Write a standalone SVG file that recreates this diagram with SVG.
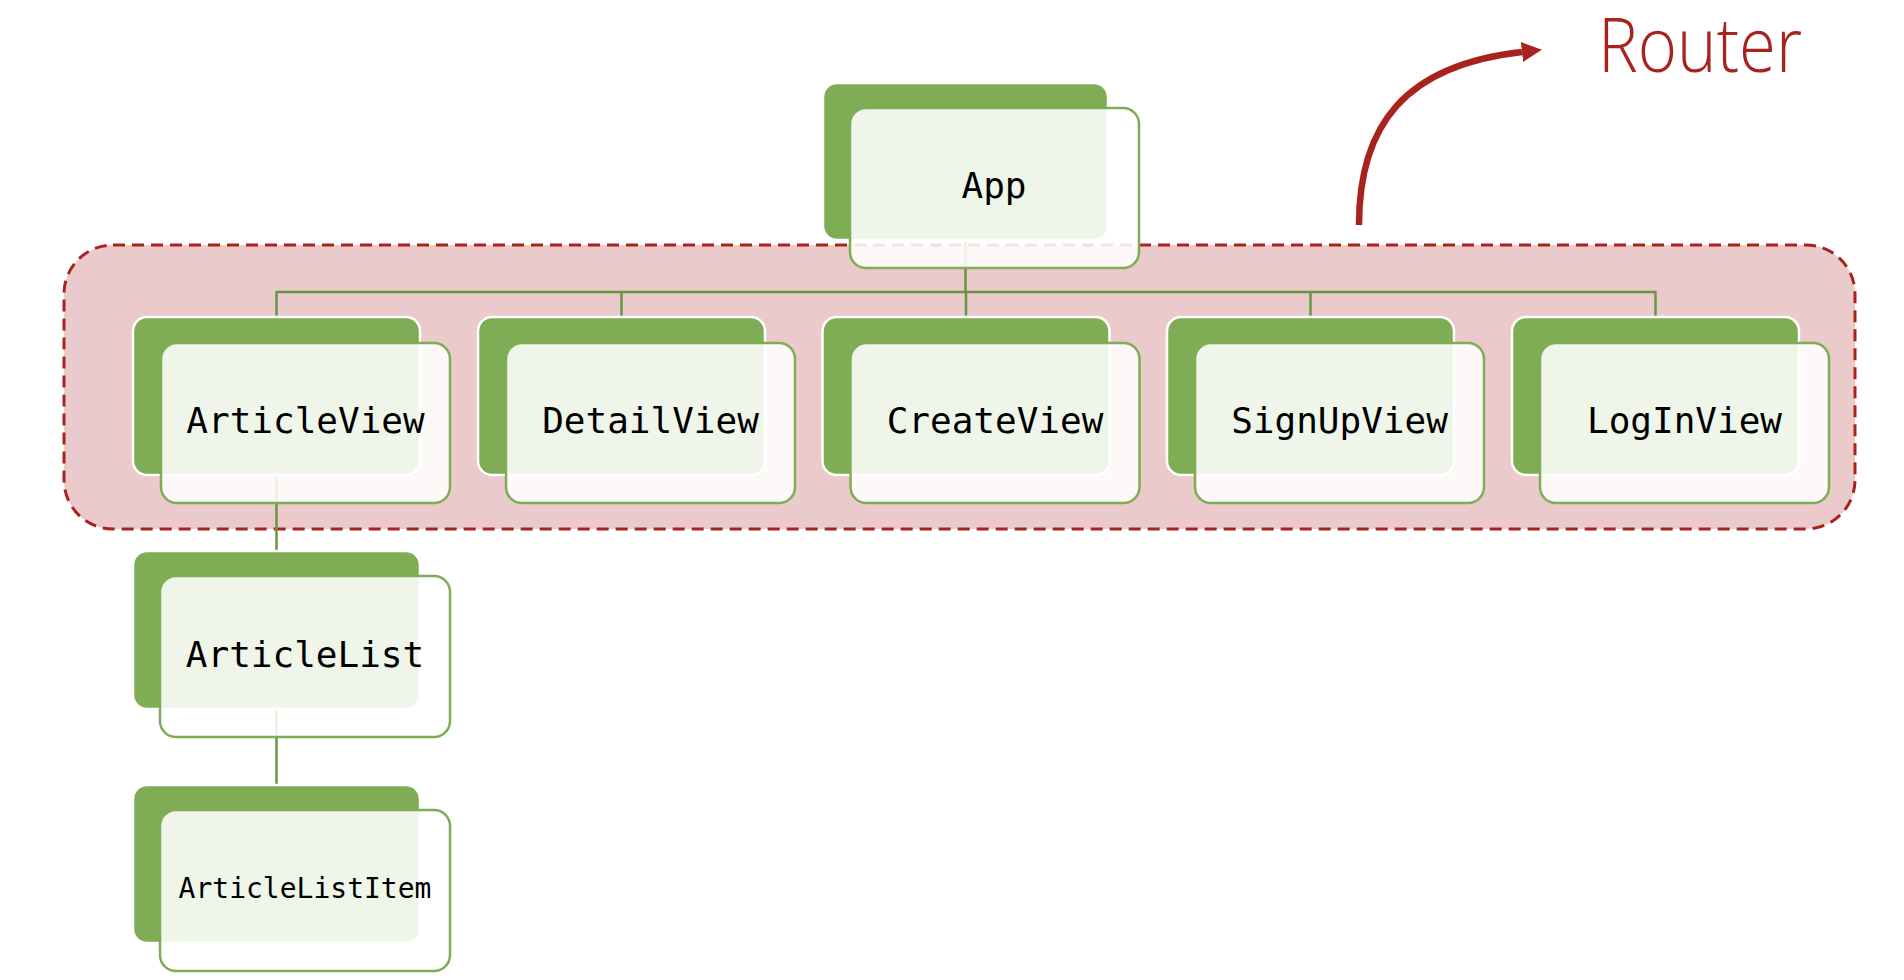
<svg xmlns="http://www.w3.org/2000/svg" width="1904" height="980" viewBox="0 0 1904 980">
<defs>
<style>
.dark{fill:#7FAD55;stroke:#FFFFFF;stroke-width:2.5}
.light{fill:#FFFFFF;fill-opacity:0.875;stroke:#7FAD55;stroke-width:2.5}
.lbl{font-family:"DejaVu Sans Mono","Liberation Mono",monospace;font-size:36px;fill:#000000;text-anchor:middle}
.conn{stroke:#6A9445;stroke-width:2.5;fill:none}
</style>
<marker id="ah" viewBox="0 0 20 20" refX="0" refY="10" markerWidth="20" markerHeight="20" markerUnits="userSpaceOnUse" orient="auto">
<path d="M0,0 L20,10 L0,20 z" fill="#A8231E"/>
</marker>
</defs>
<rect width="1904" height="980" fill="#FFFFFF"/>
<g id="router-group">
<rect x="64" y="245" width="1791" height="284" rx="49" ry="49" fill="#EACACA" stroke="#A8231E" stroke-width="3" stroke-dasharray="12,7"/>
</g>
<g id="router-label">
<path d="M1359,225 C1359,125 1405,65 1522,52" fill="none" stroke="#A8231E" stroke-width="6.5" marker-end="url(#ah)"/>
<text x="1598" y="72" font-family="'Open Sans','Noto Sans',sans-serif" font-weight="300" font-size="76" fill="#A8231E" textLength="204" lengthAdjust="spacingAndGlyphs">Router</text>
</g>
<g id="connectors">
<line class="conn" x1="965.5" y1="240" x2="965.5" y2="292"/>
<line class="conn" x1="276.5" y1="292" x2="1655.5" y2="292"/>
<line class="conn" x1="276.5" y1="291" x2="276.5" y2="317"/>
<line class="conn" x1="621.5" y1="291" x2="621.5" y2="317"/>
<line class="conn" x1="966" y1="291" x2="966" y2="317"/>
<line class="conn" x1="1310.5" y1="291" x2="1310.5" y2="317"/>
<line class="conn" x1="1655.5" y1="291" x2="1655.5" y2="317"/>
<line class="conn" x1="276.5" y1="475" x2="276.5" y2="551"/>
<line class="conn" x1="276.5" y1="709" x2="276.5" y2="785"/>
</g>
<g id="node-app">
<rect class="dark" x="823" y="83" width="285" height="157" rx="14"/>
<rect class="light" x="850" y="108" width="289" height="160" rx="16"/>
<text class="lbl" x="994" y="198">App</text>
</g>
<g id="node-articleview">
<rect class="dark" x="133" y="317" width="287" height="158" rx="14"/>
<rect class="light" x="161" y="343" width="289" height="160" rx="16"/>
<text class="lbl" x="305.5" y="433">ArticleView</text>
</g>
<g id="node-detailview">
<rect class="dark" x="478" y="317" width="287" height="158" rx="14"/>
<rect class="light" x="506" y="343" width="289" height="160" rx="16"/>
<text class="lbl" x="650.5" y="433">DetailView</text>
</g>
<g id="node-createview">
<rect class="dark" x="822.5" y="317" width="287" height="158" rx="14"/>
<rect class="light" x="850.5" y="343" width="289" height="160" rx="16"/>
<text class="lbl" x="995" y="433">CreateView</text>
</g>
<g id="node-signupview">
<rect class="dark" x="1167" y="317" width="287" height="158" rx="14"/>
<rect class="light" x="1195" y="343" width="289" height="160" rx="16"/>
<text class="lbl" x="1339.5" y="433">SignUpView</text>
</g>
<g id="node-loginview">
<rect class="dark" x="1512" y="317" width="287" height="158" rx="14"/>
<rect class="light" x="1540" y="343" width="289" height="160" rx="16"/>
<text class="lbl" x="1684.5" y="433">LogInView</text>
</g>
<g id="node-articlelist">
<rect class="dark" x="133" y="551" width="287" height="158" rx="14"/>
<rect class="light" x="160" y="576" width="290" height="161" rx="16"/>
<text class="lbl" x="305" y="667">ArticleList</text>
</g>
<g id="node-articlelistitem">
<rect class="dark" x="133" y="785" width="287" height="158" rx="14"/>
<rect class="light" x="160" y="810" width="290" height="161" rx="16"/>
<text class="lbl" x="305" y="898" style="font-size:28px">ArticleListItem</text>
</g>
</svg>
